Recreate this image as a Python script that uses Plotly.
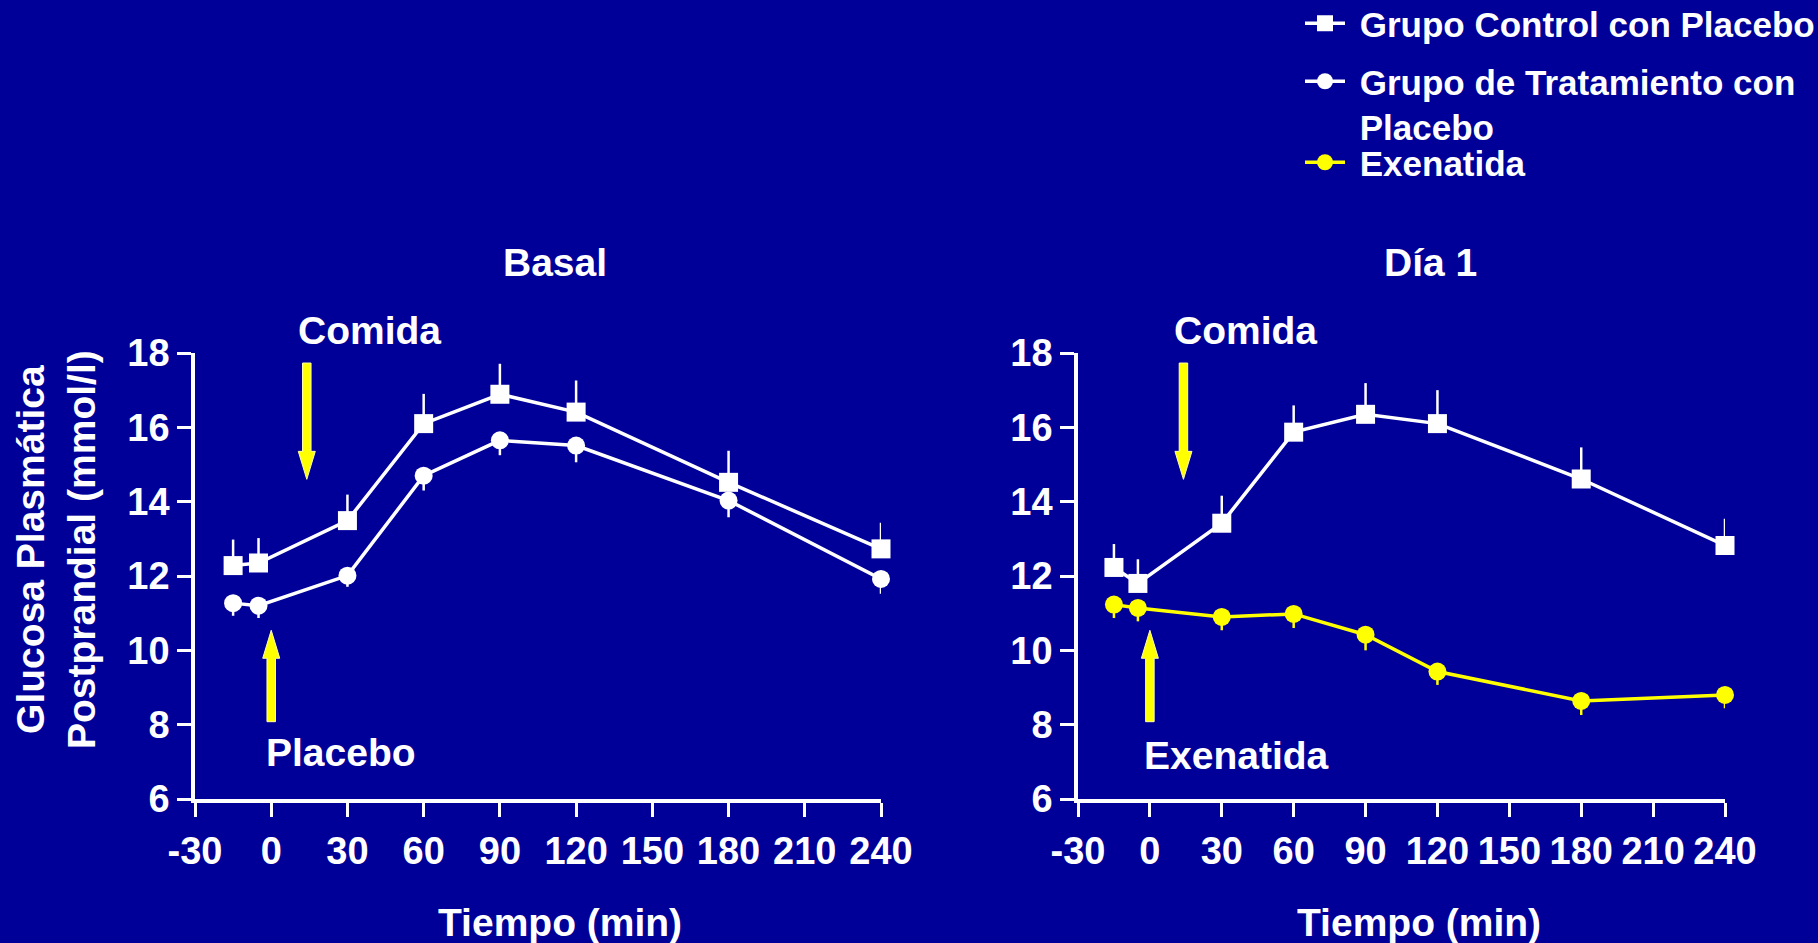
import plotly.graph_objects as go

# ---------------- data ----------------
time_min = [-15, -5, 30, 60, 90, 120, 180, 240]

basal_control = [12.28, 12.35, 13.49, 16.10, 16.89, 16.41, 14.52, 12.73]
basal_control_se = [0.70, 0.67, 0.70, 0.80, 0.82, 0.85, 0.85, 0.70]

basal_treat = [11.27, 11.20, 12.01, 14.70, 15.65, 15.51, 14.03, 11.92]
basal_treat_se = [0.34, 0.33, 0.30, 0.40, 0.40, 0.45, 0.45, 0.40]

day1_control = [12.23, 11.80, 13.42, 15.87, 16.35, 16.10, 14.61, 12.82]
day1_control_se = [0.63, 0.65, 0.74, 0.72, 0.84, 0.90, 0.85, 0.72]

day1_exenatide = [11.23, 11.14, 10.90, 10.98, 10.42, 9.43, 8.64, 8.80]
day1_exenatide_se = [0.36, 0.36, 0.36, 0.38, 0.42, 0.36, 0.38, 0.36]

x_ticks = [-30, 0, 30, 60, 90, 120, 150, 180, 210, 240]
x_tick_text = ["-30", "0", "30", "60", "90", "120", "150", "180", "210", "240"]
y_ticks = [6, 8, 10, 12, 14, 16, 18]

series_names = ["Grupo Control con Placebo",
                "Grupo de Tratamiento con<br>Placebo",
                "Exenatida"]
panel_titles = ["Basal", "Día 1"]
x_title = "Tiempo (min)"
y_title = "Glucosa Plasmática<br>Postprandial (mmol/l)"

# arrows: (time, tail value, tip value)
meal_arrow = (14, 17.73, 14.6)
dose_arrow = (0, 8.08, 10.54)
meal_label = "Comida"
dose_labels = ["Placebo", "Exenatida"]

# ---------------- style / layout constants ----------------
BG = "#000099"
WHITE = "#FFFFFF"
YELLOW = "#FFFF00"
FONT = "Arial, Liberation Sans, sans-serif"
W, H = 1818, 943
Y_TOP_PX, Y_BOT_PX = 353, 799
PX_PER_UNIT = (Y_BOT_PX - Y_TOP_PX) / 12.0
SHAFT_W, HEAD_W, HEAD_L = 8.5, 17, 28
NBSP = "\u00a0"

fig = go.Figure()

def zeros(n):
    return [0] * n

def add_series(xa, ya, y, se, up, color, symbol, name, showlegend, legend):
    err = dict(type="data", symmetric=False,
               array=se if up else zeros(len(se)),
               arrayminus=zeros(len(se)) if up else se,
               color=color, thickness=2.5, width=0)
    fig.add_trace(go.Scatter(
        x=time_min, y=y, xaxis=xa, yaxis=ya, mode="lines+markers",
        name=NBSP + name.replace("<br>", "<br>" + NBSP), showlegend=showlegend, legend=legend,
        line=dict(color=color, width=3.5),
        marker=dict(symbol=symbol, size=19 if symbol == "square" else 18, color=color),
        error_y=err, cliponaxis=False))

add_series("x", "y", basal_control, basal_control_se, True, WHITE, "square", series_names[0], True, "legend")
add_series("x", "y", basal_treat, basal_treat_se, False, WHITE, "circle", series_names[1], True, "legend2")
add_series("x2", "y2", day1_control, day1_control_se, True, WHITE, "square", series_names[0], False, "legend")
add_series("x2", "y2", day1_exenatide, day1_exenatide_se, False, YELLOW, "circle", series_names[2], True, "legend3")

ydom = [1 - Y_BOT_PX / H, 1 - Y_TOP_PX / H]
axis_common = dict(showgrid=False, zeroline=False, showline=True, linecolor=WHITE,
                   linewidth=3.5, ticks="outside", ticklen=14, tickwidth=2.5,
                   tickcolor=WHITE,
                   tickfont=dict(family=FONT, size=38, color=WHITE, weight="bold"))

leg_common = dict(xanchor="left", yanchor="top", bgcolor="rgba(0,0,0,0)",
                  font=dict(family=FONT, size=35, color=WHITE, weight="bold"),
                  valign="top", itemwidth=40)

LEG_X = 1300 / W
fig.update_layout(
    width=W, height=H,
    paper_bgcolor=BG, plot_bgcolor=BG,
    margin=dict(l=0, r=0, t=0, b=0, autoexpand=False),
    font=dict(family=FONT, color=WHITE, size=38),
    xaxis=dict(domain=[195 / W, 881 / W], range=[-30, 240], tickvals=x_ticks, ticktext=x_tick_text,
               anchor="y", ticklabelstandoff=2, **axis_common),
    yaxis=dict(domain=ydom, range=[6, 18], tickvals=y_ticks, anchor="x",
               ticklabelstandoff=0, **axis_common),
    xaxis2=dict(domain=[1078 / W, 1725 / W], range=[-30, 240], tickvals=x_ticks, ticktext=x_tick_text,
                anchor="y2", ticklabelstandoff=2, **axis_common),
    yaxis2=dict(domain=ydom, range=[6, 18], tickvals=y_ticks, anchor="x2",
                ticklabelstandoff=0, **axis_common),
    legend=dict(x=LEG_X, y=1 + 6 / H, **leg_common),
    legend2=dict(x=LEG_X, y=1 - 52 / H, **leg_common),
    legend3=dict(x=LEG_X, y=1 - 133 / H, **leg_common),
    showlegend=True,
)

def txt(s, x, y, size=39, angle=0):
    return dict(text="<b>%s</b>" % s, x=x / W, y=1 - y / H, xref="paper", yref="paper",
                showarrow=False, textangle=angle,
                font=dict(family=FONT, size=size, color=WHITE),
                xanchor="center", yanchor="middle")

anns = []
for title, xc in zip(panel_titles, [555, 1430]):
    anns.append(txt(title, xc, 262, 39))
for xc in [560, 1419]:
    anns.append(txt(x_title, xc, 922, 39))
anns.append(txt(y_title, 56, 550, 39, -90))
anns.append(txt(meal_label, 369, 330, 39))
anns.append(txt(meal_label, 1245, 330, 39))
anns.append(txt(dose_labels[0], 341, 752, 39))
anns.append(txt(dose_labels[1], 1236, 755, 39))
fig.update_layout(annotations=anns)

# yellow arrows as pixel-sized shapes anchored at the arrow tip
def arrow_path(length_px, direction):
    # direction = +1 : tail above tip (pointing down); -1 : tail below tip (pointing up)
    s = direction
    hw, sw = HEAD_W / 2, SHAFT_W / 2
    pts = [(0, 0), (hw, s * HEAD_L), (sw, s * HEAD_L), (sw, s * length_px),
           (-sw, s * length_px), (-sw, s * HEAD_L), (-hw, s * HEAD_L)]
    return "M " + " L ".join("%.2f,%.2f" % p for p in pts) + " Z"

shapes = []
for xr, yr in [("x", "y"), ("x2", "y2")]:
    for (t, tail, tip) in [meal_arrow, dose_arrow]:
        direction = 1 if tail > tip else -1
        length_px = abs(tail - tip) * PX_PER_UNIT
        shapes.append(dict(type="path", xref=xr, yref=yr, xsizemode="pixel", ysizemode="pixel",
                           xanchor=t, yanchor=tip, path=arrow_path(length_px, direction),
                           fillcolor=YELLOW, line=dict(color="#FFFFAA", width=1), layer="above"))
fig.update_layout(shapes=shapes)

fig.write_html("out.html")
